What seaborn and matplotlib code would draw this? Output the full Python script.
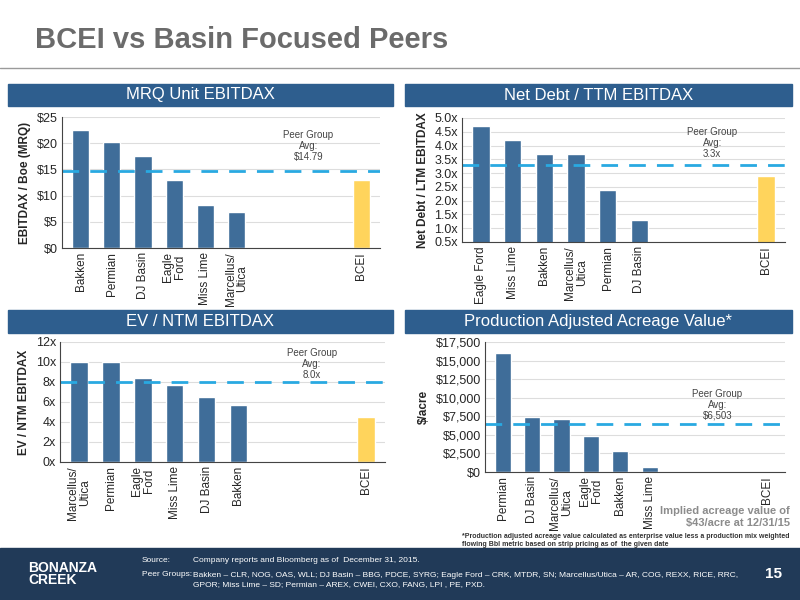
import matplotlib
matplotlib.use("Agg")
import matplotlib.pyplot as plt
import seaborn as sns
import pandas as pd
from matplotlib.patches import Rectangle

# data
mrq_cats = ["Bakken", "Permian", "DJ Basin", "Eagle\nFord", "Miss Lime", "Marcellus/\nUtica", "BCEI"]
mrq_vals = [22.5, 20.2, 17.5, 13.0, 8.3, 6.8, 13.0]
mrq_avg = 14.79

nd_cats = ["Eagle Ford", "Miss Lime", "Bakken", "Marcellus/\nUtica", "Permian", "DJ Basin", "BCEI"]
nd_vals = [4.7, 4.2, 3.7, 3.7, 2.4, 1.3, 2.9]
nd_avg = 3.3

ev_cats = ["Marcellus/\nUtica", "Permian", "Eagle\nFord", "Miss Lime", "DJ Basin", "Bakken", "BCEI"]
ev_vals = [10.0, 10.0, 8.4, 7.7, 6.5, 5.7, 4.5]
ev_avg = 8.0

pa_cats = ["Permian", "DJ Basin", "Marcellus/\nUtica", "Eagle\nFord", "Bakken", "Miss Lime", "BCEI"]
pa_vals = [16000, 7400, 7200, 4900, 2800, 700, 43]
pa_avg = 6503

slots = [0, 1, 2, 3, 4, 5, 9]
BLUE = "#3f6d99"
GOLD = "#ffd45c"
DASH = "#29a9e1"
HEAD = "#2e5e8e"

sns.set_style("white")
plt.rcParams["font.family"] = ["Liberation Sans", "DejaVu Sans"]

fig = plt.figure(figsize=(8, 6), dpi=100)
W, H = 800, 600

def box(x, y, w, h):
    return [x / W, 1 - (y + h) / H, w / W, h / H]

fig.text(35 / W, 1 - 40 / H, "BCEI vs Basin Focused Peers", fontsize=21, fontweight="bold",
         color="#6b6b6b", va="center")
fig.add_artist(plt.Line2D([0, 1], [1 - 68 / H, 1 - 68 / H], color="#9a9a9a", lw=1))

def header(x, y, w, h, text):
    fig.add_artist(Rectangle((x / W, 1 - (y + h) / H), w / W, h / H, color=HEAD,
                             transform=fig.transFigure))
    fig.text((x + w / 2) / W, 1 - (y + h / 2) / H, text, color="white", fontsize=12,
             ha="center", va="center")

def panel(rect, cats, vals, avg, ylim, yticks, yfmt, ylabel, avgtxt, avgy):
    ax = fig.add_axes(box(*rect))
    df = pd.DataFrame({"x": slots, "y": vals})
    sns.barplot(data=df, x="x", y="y", native_scale=True, width=0.55, color=BLUE,
                saturation=1, ax=ax)
    ax.patches[-1].set_facecolor(GOLD)
    ax.axhline(avg, color=DASH, lw=2, ls=(0, (6, 4)))
    ax.set_xlim(-0.6, 9.6)
    ax.set_ylim(*ylim)
    ax.set_yticks(yticks)
    ax.set_yticklabels([yfmt(v) for v in yticks], fontsize=9)
    ax.yaxis.grid(True, color="#dddddd", lw=0.8)
    ax.set_axisbelow(True)
    ax.set_xticks(slots)
    ax.set_xticklabels(cats, rotation=90, fontsize=8.5, linespacing=1.0)
    ax.tick_params(axis="both", length=0, pad=3)
    ax.set_xlabel("")
    ax.set_ylabel(ylabel, fontsize=8.5, fontweight="bold")
    for s in ["top", "right"]:
        ax.spines[s].set_visible(False)
    ax.spines["left"].set_color("#444444")
    ax.spines["bottom"].set_color("#444444")
    ax.text(7.3, avgy, avgtxt, ha="center", va="center", fontsize=7, color="#444444",
            linespacing=1.1)
    return ax

header(8, 84, 385, 22, "MRQ Unit EBITDAX")
panel((62, 117, 318, 131), mrq_cats, mrq_vals, mrq_avg, (0, 25), [0, 5, 10, 15, 20, 25],
      lambda v: f"${v:.0f}", "EBITDAX / Boe (MRQ)", "Peer Group\nAvg:\n$14.79", 19.5)

header(405, 84, 387, 22, "Net Debt / TTM EBITDAX")
panel((462, 118, 323, 124), nd_cats, nd_vals, nd_avg, (0.5, 5.0),
      [0.5, 1.0, 1.5, 2.0, 2.5, 3.0, 3.5, 4.0, 4.5, 5.0],
      lambda v: f"{v:.1f}x", "Net Debt / LTM EBITDAX", "Peer Group\nAvg:\n3.3x", 4.1)

header(8, 310, 385, 23, "EV / NTM EBITDAX")
panel((60, 342, 325, 120), ev_cats, ev_vals, ev_avg, (0, 12), [0, 2, 4, 6, 8, 10, 12],
      lambda v: f"{v:.0f}x", "EV / NTM EBITDAX", "Peer Group\nAvg:\n8.0x", 9.8)

header(405, 310, 387, 23, "Production Adjusted Acreage Value*")
panel((485, 342, 300, 130), pa_cats, pa_vals, pa_avg, (0, 17500),
      [0, 2500, 5000, 7500, 10000, 12500, 15000, 17500],
      lambda v: f"${v:,.0f}", "$/acre", "Peer Group\nAvg:\n$6,503", 9000)

fig.text(790 / W, 1 - 517 / H, "Implied acreage value of\n$43/acre at 12/31/15", ha="right",
         va="center", fontsize=8, color="#8c8c8c", fontweight="bold", linespacing=1.2)
fig.text(462 / W, 1 - 540 / H,
         "*Production adjusted acreage value calculated as enterprise value less a production mix weighted\n"
         "flowing Bbl metric based on strip pricing as of  the given date",
         fontsize=5, va="center", fontweight="bold", color="#333333")

# footer
fig.add_artist(Rectangle((0, 0), 1, 52 / H, color="#213a58", transform=fig.transFigure))
fig.text(28 / W, 26 / H, "BONANZA\nCREEK", color="white", fontsize=10, fontweight="bold",
         va="center", linespacing=0.9)
fig.text(142 / W, 40 / H, "Source:", color="white", fontsize=6, va="center")
fig.text(142 / W, 26 / H, "Peer Groups:", color="white", fontsize=6, va="center")
fig.text(193 / W, 40 / H, "Company reports and Bloomberg as of  December 31, 2015.", color="white",
         fontsize=6, va="center")
fig.text(193 / W, 20 / H,
         "Bakken \u2013 CLR, NOG, OAS, WLL; DJ Basin \u2013 BBG, PDCE, SYRG; Eagle Ford \u2013 CRK, MTDR, SN; Marcellus/Utica \u2013 AR, COG, REXX, RICE, RRC,\n"
         "GPOR; Miss Lime \u2013 SD; Permian \u2013 AREX, CWEI, CXO, FANG, LPI , PE, PXD.",
         color="white", fontsize=6, va="center", linespacing=1.4)
fig.text(782 / W, 26 / H, "15", color="white", fontsize=11, fontweight="bold", ha="right",
         va="center")

fig.savefig("out.png", dpi=100)
